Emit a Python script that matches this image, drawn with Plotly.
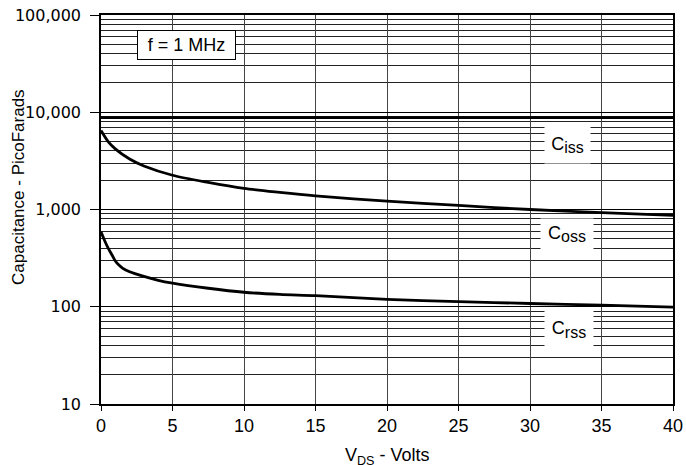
import plotly.graph_objects as go

# ---- data ----
vds_ciss = [0, 10, 20, 30, 40]
ciss = [8800, 8800, 8800, 8800, 8800]

vds_coss = [0, 0.5, 1, 2, 3, 5, 7.5, 10, 12.5, 15, 20, 25, 30, 35, 40]
coss = [6500, 5000, 4200, 3300, 2800, 2250, 1900, 1650, 1500, 1380, 1220, 1100, 1000, 930, 870]

vds_crss = [0, 0.25, 0.5, 0.75, 1, 1.25, 1.5, 2, 3, 4, 5, 7.5, 10, 12.5, 15, 20, 25, 30, 35, 40]
crss = [590, 480, 400, 345, 295, 268, 250, 229, 205, 187, 175, 155, 141, 134, 130, 119, 113, 108, 104, 99]

y_tickvals = [10, 100, 1000, 10000, 100000]
y_ticktext = ["10", "100", "1,000", "10,000", "100,000"]

FONT = "Liberation Sans, Arial, sans-serif"
WIDE = "DejaVu Sans, sans-serif"

fig = go.Figure()
for xs, ys in [(vds_ciss, ciss), (vds_coss, coss), (vds_crss, crss)]:
    fig.add_trace(go.Scatter(x=xs, y=ys, mode="lines",
                             line=dict(color="black", width=2.8, shape="spline", smoothing=0.8),
                             showlegend=False, hoverinfo="skip"))

# curve labels (white boxes hiding grid lines)
labels = [("C<sub><span style='font-size:16px'>iss</span></sub>", 32.6, 3.66, 45, 36),
          ("C<sub><span style='font-size:16px'>oss</span></sub>", 32.6, 2.753, 52, 30),
          ("C<sub><span style='font-size:16px'>rss</span></sub>", 32.7, 1.769, 48, 37)]
for txt, x, ly, w, h in labels:
    fig.add_annotation(x=x, y=ly, xref="x", yref="y", text=txt, showarrow=False,
                       bgcolor="white", width=w, height=h, borderpad=0,
                       font=dict(family=FONT, size=18, color="black"))

fig.add_annotation(x=5.98, y=4.691, xref="x", yref="y", text="f = 1 MHz", showarrow=False,
                   bgcolor="white", bordercolor="black", borderwidth=1, borderpad=1,
                   width=95, height=26, font=dict(family=FONT, size=18, color="black"))

# axis titles
fig.add_annotation(x=0, y=0.5566, xref="paper", yref="paper", xanchor="center", yanchor="middle",
                   xshift=-82.5, textangle=-90, showarrow=False,
                   text="Capacitance - PicoFarads", font=dict(family=FONT, size=17, color="black"))
fig.add_annotation(x=0.5, y=0, xref="paper", yref="paper", xanchor="center", yanchor="top",
                   yshift=-39, showarrow=False,
                   text="V<sub>DS</sub> - Volts", font=dict(family=FONT, size=18, color="black"))

fig.update_layout(
    width=686, height=465,
    margin=dict(l=101, r=13, t=15, b=61, autoexpand=False),
    paper_bgcolor="white", plot_bgcolor="white",
    font=dict(family=FONT, size=16, color="black"),
    xaxis=dict(range=[0, 40], dtick=5, tick0=0, showgrid=True, gridcolor="#444", gridwidth=1,
               automargin=False,
               zeroline=False, showline=True, linecolor="black", linewidth=1.5, mirror=True,
               ticks="outside", ticklen=5, tickcolor="black",
               tickfont=dict(family=FONT, size=18)),
    yaxis=dict(type="log", range=[1, 5], tickvals=y_tickvals, ticktext=y_ticktext,
               automargin=False,
               showgrid=True, gridcolor="black", gridwidth=1,
               minor=dict(dtick="D1", showgrid=True, gridcolor="#222", gridwidth=1, ticks=""),
               zeroline=False, showline=True, linecolor="black", linewidth=1.5, mirror=True,
               ticks="outside", ticklen=9, tickcolor="black", ticklabelstandoff=6,
               tickfont=dict(family=WIDE, size=16)),
)

fig.write_html("out.html")
